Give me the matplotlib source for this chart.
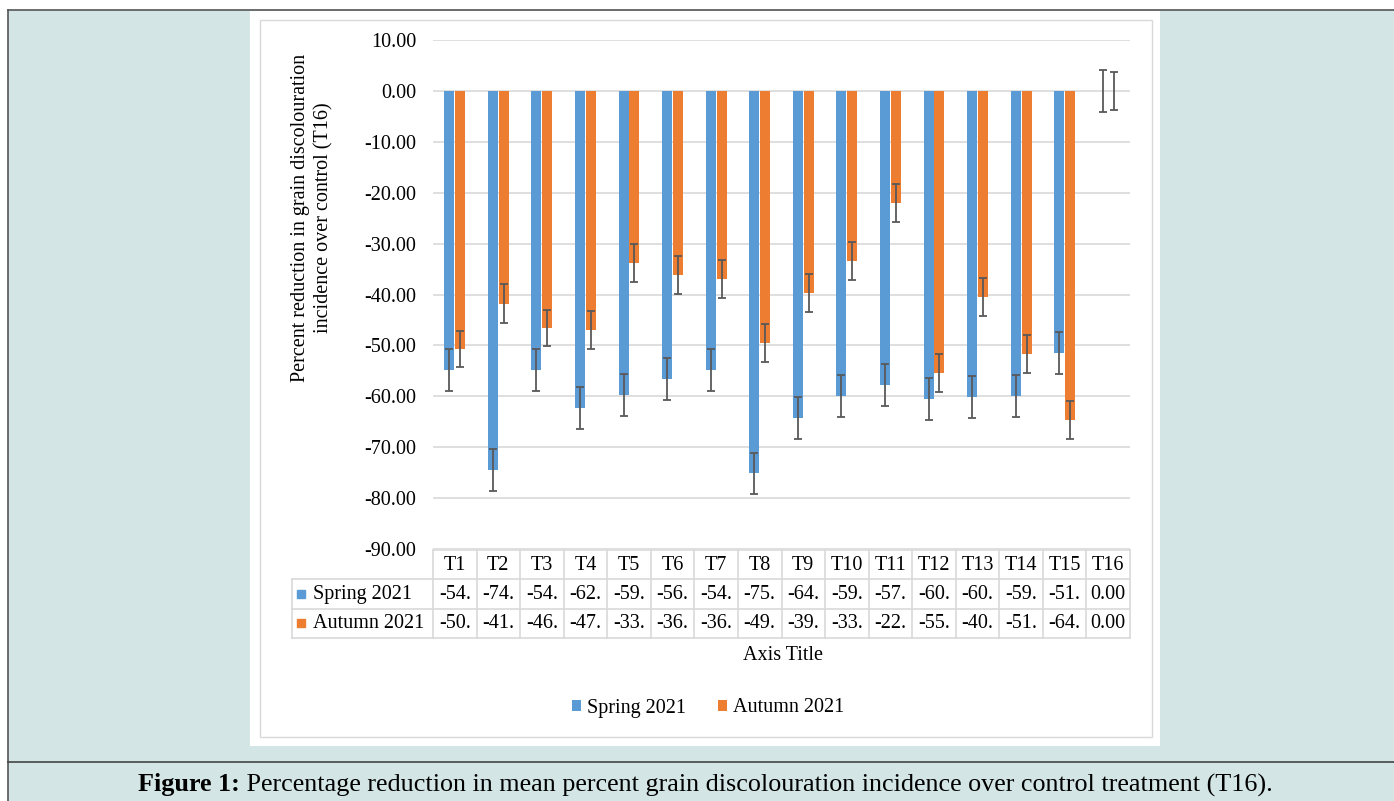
import matplotlib.pyplot as plt
from matplotlib.patches import Rectangle
from matplotlib.lines import Line2D
import numpy as np

# data
categories = ["T%d" % i for i in range(1, 17)]
spring = [-54.8, -74.5, -54.8, -62.3, -59.7, -56.6, -54.8, -75.1,
          -64.2, -59.9, -57.8, -60.5, -60.1, -59.9, -51.5, 0.0]
autumn = [-50.7, -41.8, -46.6, -47.0, -33.8, -36.2, -36.9, -49.5,
          -39.7, -33.4, -22.0, -55.4, -40.5, -51.7, -64.6, 0.0]
spring_err = [4.1, 4.2, 4.1, 4.2, 4.1, 4.2, 4.1, 4.0,
              4.1, 4.1, 4.1, 4.1, 4.1, 4.1, 4.1, 4.1]
autumn_err = [3.6, 3.8, 3.6, 3.7, 3.7, 3.7, 3.7, 3.7,
              3.7, 3.7, 3.8, 3.7, 3.7, 3.7, 3.7, 3.7]
yticks = np.arange(-90, 11, 10)

BLUE = "#5b9bd5"
ORANGE = "#ed7d31"
GRID = "#d9d9d9"
W, H = 1394, 801

plt.rcParams['font.family'] = ['Liberation Serif', 'DejaVu Serif']

fig = plt.figure(figsize=(W / 100, H / 100), dpi=100)

def fx(x):
    return x / W

def fy(y):
    return 1 - y / H

# page background and frame
fig.patches.append(Rectangle((fx(8), 0), 1 - fx(8), fy(10), transform=fig.transFigure,
                             facecolor="#d3e6e5", edgecolor="none", zorder=-5))
fig.lines.append(Line2D([fx(8), 1], [fy(10), fy(10)], transform=fig.transFigure, color="#555555", lw=1.2, zorder=-3))
fig.lines.append(Line2D([fx(8), fx(8)], [fy(10), 0], transform=fig.transFigure, color="#555555", lw=1.2, zorder=-3))
fig.lines.append(Line2D([fx(8), 1], [fy(762), fy(762)], transform=fig.transFigure, color="#444444", lw=1.2, zorder=-3))
# white chart box with thin grey border
fig.patches.append(Rectangle((fx(250), fy(746)), fx(910), (746 - 11) / H, transform=fig.transFigure,
                             facecolor="white", edgecolor="none", zorder=-4))
fig.patches.append(Rectangle((fx(260), fy(737)), fx(892), (737 - 20) / H, transform=fig.transFigure,
                             facecolor="none", edgecolor=GRID, lw=1.0, zorder=-3))

# main plot
ax = fig.add_axes([fx(433), fy(549), fx(1130 - 433), (549 - 40) / H])
ax.set_facecolor("none")
x = np.arange(len(categories))
bw = 0.23
off = 0.125
bs = ax.bar(x - off, spring, bw, color=BLUE, label="Spring 2021", zorder=3)
ba = ax.bar(x + off, autumn, bw, color=ORANGE, label="Autumn 2021", zorder=3)
ax.errorbar(x - off, spring, yerr=spring_err, fmt="none", ecolor="#595959",
            elinewidth=1.3, capsize=3, capthick=1.3, zorder=4)
ax.errorbar(x + off, autumn, yerr=autumn_err, fmt="none", ecolor="#595959",
            elinewidth=1.3, capsize=3, capthick=1.3, zorder=4)
ax.set_xlim(-0.5, 15.5)
ax.set_ylim(-90, 10)
ax.set_yticks(yticks)
ax.set_yticklabels(["%.2f" % v for v in yticks])
ax.set_xticks([])
ax.tick_params(axis="y", length=0, pad=12, labelsize=14.5)
ax.grid(axis="y", color=GRID, lw=1.2, zorder=0)
for s in ax.spines.values():
    s.set_visible(False)
ax.set_ylabel("Percent reduction in grain discolouration\nincidence over control (T16)",
              fontsize=14.5, linespacing=1.25)
# label anchor is the right edge of the rotated text
ax.yaxis.set_label_coords((333 - 433) / (1130 - 433), (549 - 218) / (549 - 40))

# data table under the plot
left_units = (433 - 292) / ((1130 - 433) / 16)
tax = fig.add_axes([fx(292), fy(638), fx(1130 - 292), (638 - 550) / H])
tax.set_xlim(-0.5 - left_units, 15.5)
tax.set_ylim(3, 0)
tax.axis("off")
xl = -0.5 - left_units
lk = dict(color=GRID, lw=1.2, clip_on=False)
tax.plot([-0.5, 15.5], [0, 0], **lk)
for r in (1, 2, 3):
    tax.plot([xl, 15.5], [r, r], **lk)
for i in range(17):
    tax.plot([i - 0.5, i - 0.5], [0, 3], **lk)
tax.plot([xl, xl], [1, 3], **lk)
for i, c in enumerate(categories):
    tax.text(i, 0.52, c, ha="center", va="center", fontsize=14.5)
    tax.text(i, 1.52, ("%.2f" % spring[i])[:4], ha="center", va="center", fontsize=14.5)
    tax.text(i, 2.52, ("%.2f" % autumn[i])[:4], ha="center", va="center", fontsize=14.5)
for r, (name, col) in enumerate([("Spring 2021", BLUE), ("Autumn 2021", ORANGE)]):
    tax.plot([xl + 0.2], [r + 1.5], marker="s", ms=6, color=col, clip_on=False)
    tax.text(xl + 0.48, r + 1.52, name, ha="left", va="center", fontsize=14.5)

fig.text(fx(783), fy(656), "Axis Title", ha="center", va="center", fontsize=14.5)

fig.legend(handles=[bs, ba], loc="center", bbox_to_anchor=(fx(708), fy(708)), ncol=2,
           frameon=False, fontsize=14.5, handlelength=0.45, handleheight=0.45,
           handletextpad=0.3, columnspacing=1.6)

# caption: bold label followed by regular text
r = fig.canvas.get_renderer()
cap_size = 18.8
t1 = fig.text(0, fy(785), "Figure 1:", fontweight="bold", fontsize=cap_size, va="center")
t2 = fig.text(0, fy(785), " Percentage reduction in mean percent grain discolouration incidence over control treatment (T16).",
              fontsize=cap_size, va="center")
w1 = t1.get_window_extent(r).width
w2 = t2.get_window_extent(r).width
x0 = 705 - (w1 + w2) / 2
t1.set_x(fx(x0))
t2.set_x(fx(x0 + w1))

fig.savefig("out.png", dpi=100)
